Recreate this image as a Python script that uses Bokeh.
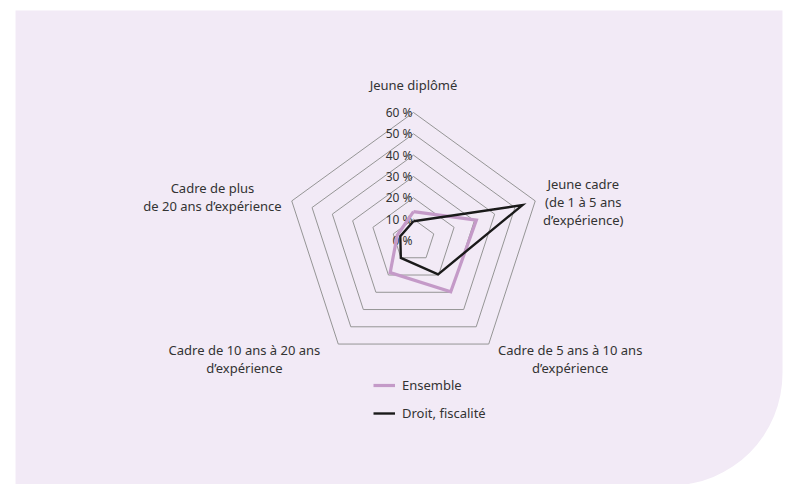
import numpy as np
from bokeh.plotting import figure
from bokeh.models import Range1d, BoxAnnotation, Legend, LegendItem
from bokeh.core.properties import value
from bokeh.embed import file_html
from bokeh.resources import INLINE

# ---- data ----
categories = ["Jeune diplômé", "Jeune cadre", "Cadre de 5 ans à 10 ans",
              "Cadre de 10 ans à 20 ans", "Cadre de plus de 20 ans"]
category_lines = [
    ["Jeune diplômé"],
    ["Jeune cadre", "(de 1 à 5 ans", "d’expérience)"],
    ["Cadre de 5 ans à 10 ans", "d’expérience"],
    ["Cadre de 10 ans à 20 ans", "d’expérience"],
    ["Cadre de plus", "de 20 ans d’expérience"],
]
ensemble = [13.5, 31, 29.7, 18.6, 8]
droit = [9, 53.7, 19.6, 10.1, 6.5]
ticks = [0, 10, 20, 30, 40, 50, 60]
tick_labels = ["0 %", "10 %", "20 %", "30 %", "40 %", "50 %", "60 %"]

# ---- layout constants (pixels in the window) ----
W, H = 785, 484
ORG = 0                    # where the canvas lands in the window
CX, CY = 413, 240          # radar centre in window pixels
S = 128 / 60               # pixels per percent
x0 = (ORG - CX) / S
x1 = (ORG + W - CX) / S
y1 = (CY - ORG) / S
y0 = (CY - ORG - H) / S

FONT = "Noto Sans"
TXT = "#333333"
PURPLE = "#C49AC8"
BLACK = "#1a1a1a"

n = len(categories)
ang = np.deg2rad(90 - 72 * np.arange(n))

def pts(vals):
    v = np.asarray(vals, dtype=float)
    xs = v * np.cos(ang)
    ys = v * np.sin(ang)
    return list(np.append(xs, xs[0])), list(np.append(ys, ys[0]))

p = figure(width=W, height=H, output_backend="svg", toolbar_location=None,
           x_range=Range1d(x0, x1), y_range=Range1d(y0, y1),
           min_border=0, outline_line_color=None, background_fill_color="white",
           border_fill_color="white")
p.axis.visible = False
p.grid.visible = False

# panel background
panel = BoxAnnotation(left=(15 - CX) / S, right=(782 - CX) / S,
                      top=(CY - 10) / S, bottom=(CY - 485) / S,
                      fill_color="#F2EAF6", fill_alpha=1, line_color=None,
                      border_radius=(0, 0, 112, 0), level="underlay")
p.add_layout(panel)

# grid rings
rx, ry = [], []
for t in ticks[1:]:
    xs, ys = pts([t] * n)
    rx.append(xs)
    ry.append(ys)
p.multi_line(rx, ry, line_color="#959595", line_width=1)

# tick labels
p.text(x=[0] * len(ticks), y=ticks, text=tick_labels, text_align="right",
       text_baseline="middle", x_offset=-1, text_font=value(FONT),
       text_font_size="12px", text_color=TXT)

# series
ex, ey = pts(ensemble)
dx, dy = pts(droit)
r1 = p.line(ex, ey, line_color=PURPLE, line_width=3.2, line_join="miter")
r2 = p.line(dx, dy, line_color=BLACK, line_width=2.4, line_join="miter")

# category labels: anchored to outer ring vertex with pixel offsets
offsets = [(0, -28), (48, -17.4), (81.5, 6.4), (-93.8, 5.9), (-79.3, -13.4)]
LH = 18
for i, lines in enumerate(category_lines):
    vx = 60 * np.cos(ang[i])
    vy = 60 * np.sin(ang[i])
    ox, oy = offsets[i]
    for j, line in enumerate(lines):
        p.text(x=[vx], y=[vy], text=[line], text_align="center",
               text_baseline="middle", x_offset=ox, y_offset=oy + j * LH,
               text_font=value(FONT), text_font_size="13px", text_color=TXT)

legend = Legend(items=[LegendItem(label="Ensemble", renderers=[r1]),
                       LegendItem(label="Droit, fiscalité", renderers=[r2])],
                location=(373, 61), background_fill_alpha=0, border_line_color=None,
                padding=0, margin=0, spacing=8, glyph_width=22, glyph_height=20,
                label_height=20, label_standoff=7,
                label_text_font=FONT, label_text_font_size="13px",
                label_text_color=TXT)
p.add_layout(legend)

open("out.html", "w").write(file_html(p, INLINE))
